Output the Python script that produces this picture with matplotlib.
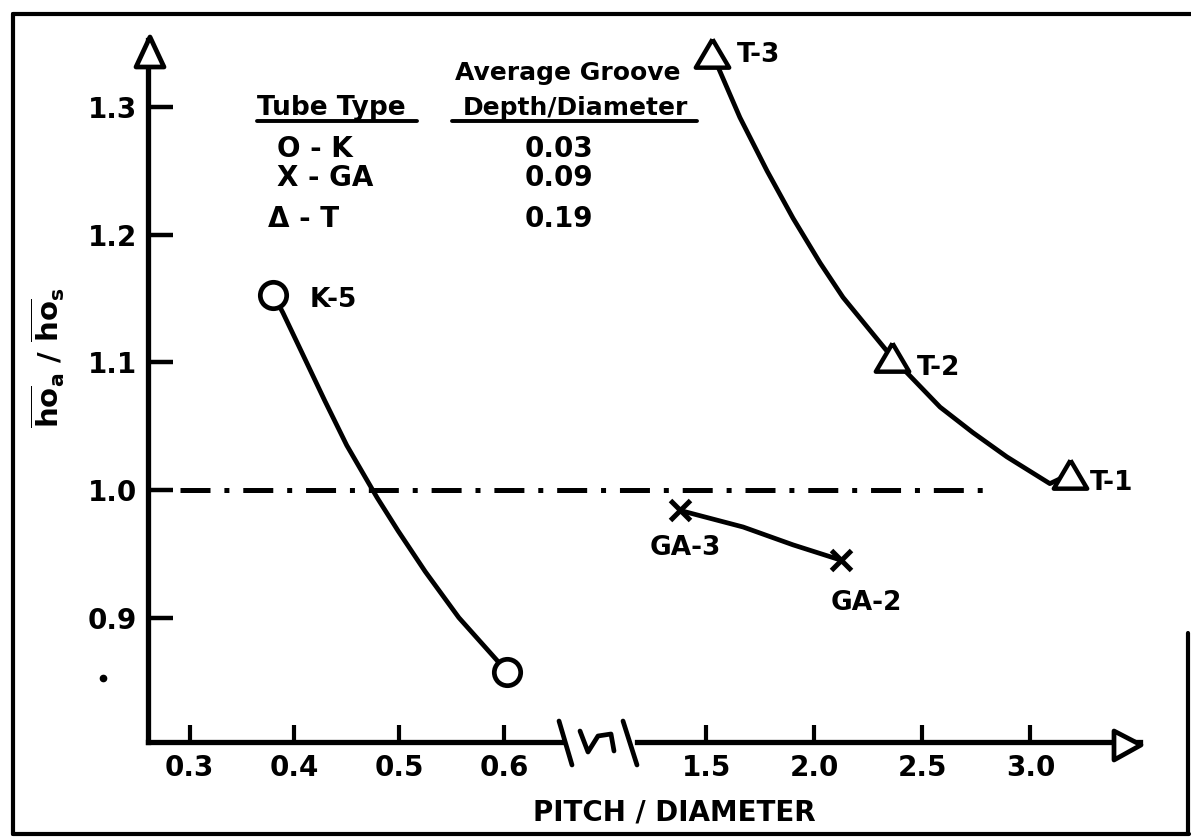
import matplotlib
matplotlib.use("Agg")
import matplotlib.pyplot as plt
from matplotlib.lines import Line2D
from matplotlib.patches import Polygon
from matplotlib.transforms import blended_transform_factory

plt.rcParams['font.family'] = ['DejaVu Sans']
plt.rcParams['font.weight'] = 'bold'
plt.rcParams['mathtext.default'] = 'bf'
plt.rcParams['lines.scale_dashes'] = False

# ---------------- data ----------------
y_ticks = [0.9, 1.0, 1.1, 1.2, 1.3]
y_tick_labels = ['0.9', '1.0', '1.1', '1.2', '1.3']
x_ticks_low = [0.3, 0.4, 0.5, 0.6]
x_tick_labels_low = ['0.3', '0.4', '0.5', '0.6']
x_ticks_high = [1.5, 2.0, 2.5, 3.0]
x_tick_labels_high = ['1.5', '2.0', '2.5', '3.0']

k_x = [0.380, 0.603]
k_y = [1.153, 0.857]
k_curve_x = [0.380, 0.389, 0.407, 0.429, 0.450, 0.479, 0.499, 0.525, 0.557, 0.594, 0.603]
k_curve_y = [1.153, 1.139, 1.108, 1.070, 1.035, 0.994, 0.968, 0.936, 0.900, 0.866, 0.857]

ga_x = [1.379, 2.124]
ga_y = [0.984, 0.945]
ga_curve_x = [1.379, 1.671, 1.902, 2.124]
ga_curve_y = [0.984, 0.971, 0.957, 0.945]

t_x = [1.527, 2.360, 3.183]
t_y = [1.3425, 1.104, 1.0125]
t_curve_x = [1.527, 1.656, 1.782, 1.902, 2.027, 2.133, 2.360, 2.582, 2.734, 2.891, 3.090, 3.183]
t_curve_y = [1.3425, 1.292, 1.250, 1.213, 1.178, 1.151, 1.104, 1.065, 1.045, 1.026, 1.005, 1.0125]

ref_level = 1.0

tube_types = ['O - K', 'X - GA', 'Δ - T']
groove_depths = ['0.03', '0.09', '0.19']

# ---------------- layout helpers (pixels -> figure fraction) ----------------
W, H = 1191, 838
fig = plt.figure(figsize=(W / 100, H / 100), dpi=100)
fig.patch.set_facecolor('white')


def fx(p):
    return p / W


def fy(p):
    return 1 - p / H


AXL_L, BRK_L, BRK_R, ARR_X = 148, 563, 637, 1140
AX_B, ARR_Y = 742, 40
LW_AX = 3.8
LW_CURVE = 3.4

axL = fig.add_axes([fx(AXL_L), fy(AX_B), (BRK_L - AXL_L) / W, (AX_B - ARR_Y) / H])
axR = fig.add_axes([fx(BRK_R), fy(AX_B), (ARR_X - BRK_R) / W, (AX_B - ARR_Y) / H])

for ax in (axL, axR):
    ax.set_ylim(0.8025, 1.3527)
    ax.patch.set_alpha(0)
    for s in ('top', 'right'):
        ax.spines[s].set_visible(False)
    ax.spines['bottom'].set_linewidth(LW_AX)
    ax.spines['left'].set_linewidth(LW_AX)

axL.set_xlim(0.2602, 0.6565)
axR.set_xlim(1.180, 3.507)
axR.spines['left'].set_visible(False)

axL.set_yticks(y_ticks)
axL.set_yticklabels(y_tick_labels)
axL.set_xticks(x_ticks_low)
axL.set_xticklabels(x_tick_labels_low)
axR.set_xticks(x_ticks_high)
axR.set_xticklabels(x_tick_labels_high)
axR.set_yticks([])

axL.tick_params(axis='y', direction='in', length=18, width=3.2, labelsize=20, pad=8)
for ax in (axL, axR):
    ax.tick_params(axis='x', direction='in', length=12, width=3.0, labelsize=20, pad=9)

curve_kw = dict(color='black', lw=LW_CURVE, solid_capstyle='round',
                solid_joinstyle='round', zorder=3)

# ---------------- data series ----------------
axL.plot(k_curve_x, k_curve_y, **curve_kw)
axL.plot(k_x, k_y, linestyle='none', marker='o', ms=19, mfc='white', mec='black',
         mew=3.4, zorder=4, clip_on=False)

axR.plot(ga_curve_x, ga_curve_y, **curve_kw)
axR.plot(ga_x, ga_y, linestyle='none', marker='x', ms=14, mec='black', mew=3.6,
         zorder=4, clip_on=False)

tri = [(0, 0.85), (-1, -0.85), (1, -0.85), (0, 0.85)]
axR.plot(t_curve_x, t_curve_y, **curve_kw)
axR.plot(t_x, t_y, linestyle='none', marker=tri, ms=24, mfc='white', mec='black',
         mew=3.2, zorder=4, clip_on=False)

# point labels
lab_kw = dict(textcoords='offset points', fontsize=19, fontweight='bold', va='baseline')
axL.annotate('K-5', (k_x[0], k_y[0]), xytext=(26, -8.6), ha='left', **lab_kw)
axR.annotate('T-3', (t_x[0], t_y[0]), xytext=(18, -6.5), ha='left', **lab_kw)
axR.annotate('T-2', (t_x[1], t_y[1]), xytext=(18, -13), ha='left', **lab_kw)
axR.annotate('T-1', (t_x[2], t_y[2]), xytext=(14, -11.5), ha='left', **lab_kw)
axR.annotate('GA-3', (ga_x[0], ga_y[0]), xytext=(4, -32), ha='center', **lab_kw)
axR.annotate('GA-2', (ga_x[1], ga_y[1]), xytext=(18, -36), ha='center', **lab_kw)

# dash-dot reference line across the broken axis
trans = blended_transform_factory(fig.transFigure, axL.transData)
ref = Line2D([fx(180), fx(992)], [ref_level, ref_level], transform=trans, color='black',
             lw=3.6, dashes=(21.6, 10, 3.6, 10), zorder=2)
fig.add_artist(ref)

# ---------------- axis arrowheads and break ----------------
def pxpoly(pts, **kw):
    return Polygon([(fx(a), fy(b)) for a, b in pts], closed=True, transform=fig.transFigure,
                   **kw)


fig.add_artist(pxpoly([(150, 37), (136, 67), (164, 67)], facecolor='white', edgecolor='black',
                      lw=3.4, joinstyle='round', zorder=10))
fig.add_artist(pxpoly([(1141, 745), (1114, 731), (1114, 760)], facecolor='white',
                      edgecolor='black', lw=3.4, joinstyle='round', zorder=10))


def pxline(pts, lw=3.4):
    fig.add_artist(Line2D([fx(a) for a, b in pts], [fy(b) for a, b in pts],
                          transform=fig.transFigure, color='black', lw=lw,
                          solid_capstyle='round', solid_joinstyle='round', zorder=10))


pxline([(559, 721), (572, 765)])
pxline([(580, 731), (588, 752), (598, 736), (611, 734), (614, 751)])
pxline([(623, 721), (637, 765)])

# outer frame
pxline([(13, 14), (1191, 14)], lw=3.0)
pxline([(13, 14), (13, 834)], lw=3.0)
pxline([(13, 834), (1189, 834)], lw=3.0)
pxline([(1188, 633), (1188, 834)], lw=3.0)

# stray scan dot
fig.add_artist(Line2D([fx(103)], [fy(678)], marker='o', ms=4.5, color='black',
                      transform=fig.transFigure, zorder=10))

# ---------------- axis titles ----------------
fig.text(fx(674), fy(820), 'PITCH / DIAMETER', fontsize=20, fontweight='bold',
         ha='center', va='baseline')
fig.text(fx(48), fy(358), r'$\overline{ho}_{a}\ /\ \overline{ho}_{s}$', fontsize=21,
         rotation=90, ha='center', va='center')

# ---------------- key table ----------------
fig.text(fx(257), fy(115), 'Tube Type', fontsize=19, fontweight='bold', ha='left',
         va='baseline')
fig.text(fx(568), fy(80), 'Average Groove', fontsize=18, fontweight='bold', ha='center',
         va='baseline')
fig.text(fx(575), fy(115), 'Depth/Diameter', fontsize=18, fontweight='bold', ha='center',
         va='baseline')
pxline([(257, 121), (417, 121)], lw=2.8)
pxline([(452, 121), (697, 121)], lw=2.8)

row_base = [157, 186, 227]
row_left = [277, 277, 268]
for name, depth, yb, xl in zip(tube_types, groove_depths, row_base, row_left):
    fig.text(fx(xl), fy(yb), name, fontsize=20, fontweight='bold', ha='left', va='baseline')
    fig.text(fx(559), fy(yb), depth, fontsize=20, fontweight='bold', ha='center',
             va='baseline')

fig.savefig('out.png', dpi=100, facecolor='white')
